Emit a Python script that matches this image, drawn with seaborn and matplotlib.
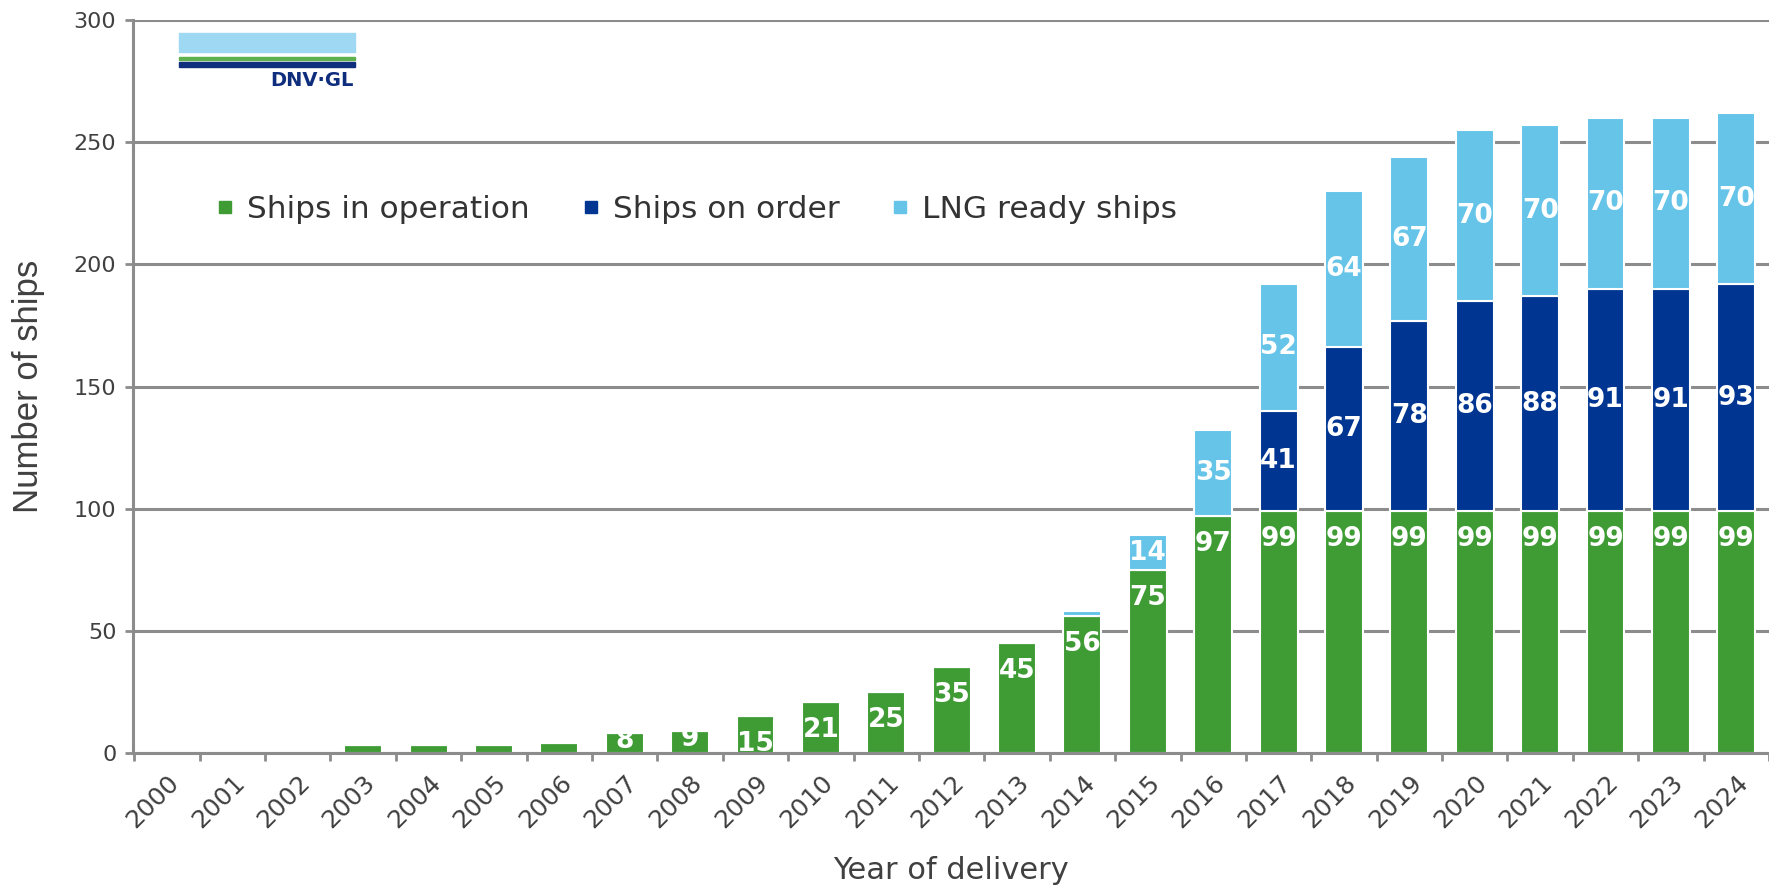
import numpy as np
import pandas as pd
import matplotlib
matplotlib.use("Agg")
import matplotlib.pyplot as plt
from matplotlib.lines import Line2D
from matplotlib.patches import Rectangle
import seaborn as sns

# data
years = [str(y) for y in range(2000, 2025)]
in_operation = [0, 0, 0, 3, 3, 3, 4, 8, 9, 15, 21, 25, 35, 45, 56, 75, 97,
                99, 99, 99, 99, 99, 99, 99, 99]
on_order = [0] * 17 + [41, 67, 78, 86, 88, 91, 91, 93]
lng_ready = [0] * 14 + [2, 14, 35, 52, 64, 67, 70, 70, 70, 70, 70]
series_names = ["Ships in operation", "Ships on order", "LNG ready ships"]

green = "#3f9c35"
navy = "#003591"
sky = "#66c4e9"
grey = "#8c8c8c"
txt = "#404040"

df = pd.DataFrame({"year": years, "operation": in_operation,
                   "order": on_order, "lng": lng_ready})
df["lng_base"] = df["operation"] + df["order"]

sns.set_style("white")
plt.rcParams["font.family"] = ["DejaVu Sans"]

W, H = 1769, 890
fig = plt.figure(figsize=(W / 100, H / 100), dpi=100)
ax = fig.add_axes([133 / W, 1 - 752.8 / H, 1 - 133 / W, (752.8 - 20.3) / H])

bar_kw = dict(width=0.58, edgecolor="white", linewidth=1.5, saturation=1, ax=ax)
sns.barplot(data=df, x="year", y="operation", color=green, **bar_kw)
sns.barplot(data=df, x="year", y="order", bottom=df["operation"], color=navy, **bar_kw)
sns.barplot(data=df, x="year", y="lng", bottom=df["lng_base"], color=sky, **bar_kw)

# value labels
lab_kw = dict(ha="center", va="center", color="white", fontsize=19, fontweight="bold")
for i, row in df.iterrows():
    v = row["operation"]
    if v >= 5:
        y = v - 11.5 if v > 14 else v / 2 + 1
        ax.text(i, y, str(v), **lab_kw)
    if row["order"] >= 5:
        ax.text(i, row["operation"] + row["order"] / 2, str(row["order"]), **lab_kw)
    if row["lng"] >= 5:
        ax.text(i, row["lng_base"] + row["lng"] / 2, str(row["lng"]), **lab_kw)

ax.set_xlim(-0.52, 24.35)
ax.set_ylim(0, 300)
ax.set_yticks(range(0, 301, 50))
ax.set_xticks(np.arange(-0.5, 24.6, 1), minor=True)
ax.set_axisbelow(True)
ax.yaxis.grid(True, color=grey, linewidth=2.2)
ax.xaxis.grid(False)
for s in ["top", "right"]:
    ax.spines[s].set_visible(False)
for s in ["left", "bottom"]:
    ax.spines[s].set_color(grey)
    ax.spines[s].set_linewidth(2.2)

ax.tick_params(axis="y", which="major", left=True, length=6, width=2, color=grey,
               labelsize=16, labelcolor=txt, pad=6)
ax.tick_params(axis="x", which="major", bottom=True, length=0, labelsize=18,
               labelcolor=txt, pad=13)
ax.tick_params(axis="x", which="minor", bottom=True, length=6, width=2, color=grey)
for lbl in ax.get_xticklabels():
    lbl.set_rotation(45)
    lbl.set_ha("right")
    lbl.set_va("top")
    lbl.set_rotation_mode("anchor")

ax.set_xlabel("Year of delivery", fontsize=22, color=txt)
ax.set_ylabel("Number of ships", fontsize=25, color=txt, family=["Liberation Sans"])
ax.xaxis.set_label_coords(0.5, -0.141)
ax.yaxis.set_label_coords(-0.054, 0.5)

handles = [Line2D([], [], marker="s", ls="", color=c, markersize=8)
           for c in [green, navy, sky]]
leg = fig.legend(handles, series_names, loc="center left", bbox_to_anchor=(0.122, 0.765),
                 ncol=3, frameon=False, fontsize=22.5, handlelength=0.6,
                 handletextpad=0.4, columnspacing=1.65, borderpad=0, borderaxespad=0)
for t in leg.get_texts():
    t.set_color("#333333")

# DNV GL logo
fig.add_artist(Rectangle((179 / W, 1 - 52 / H), 176 / W, 19 / H, color="#9fd8f2",
                         transform=fig.transFigure))
fig.add_artist(Rectangle((179 / W, 1 - 59.5 / H), 176 / W, 2.5 / H, color="#5eb14e",
                         transform=fig.transFigure))
fig.add_artist(Rectangle((179 / W, 1 - 67 / H), 176 / W, 5.5 / H, color="#0f2d7d",
                         transform=fig.transFigure))
fig.text(354 / W, 1 - 80.5 / H, "DNV·GL", ha="right", va="center", fontsize=14,
         fontweight="bold", color="#0f2d7d")

fig.savefig("out.png", dpi=100, facecolor="white")
